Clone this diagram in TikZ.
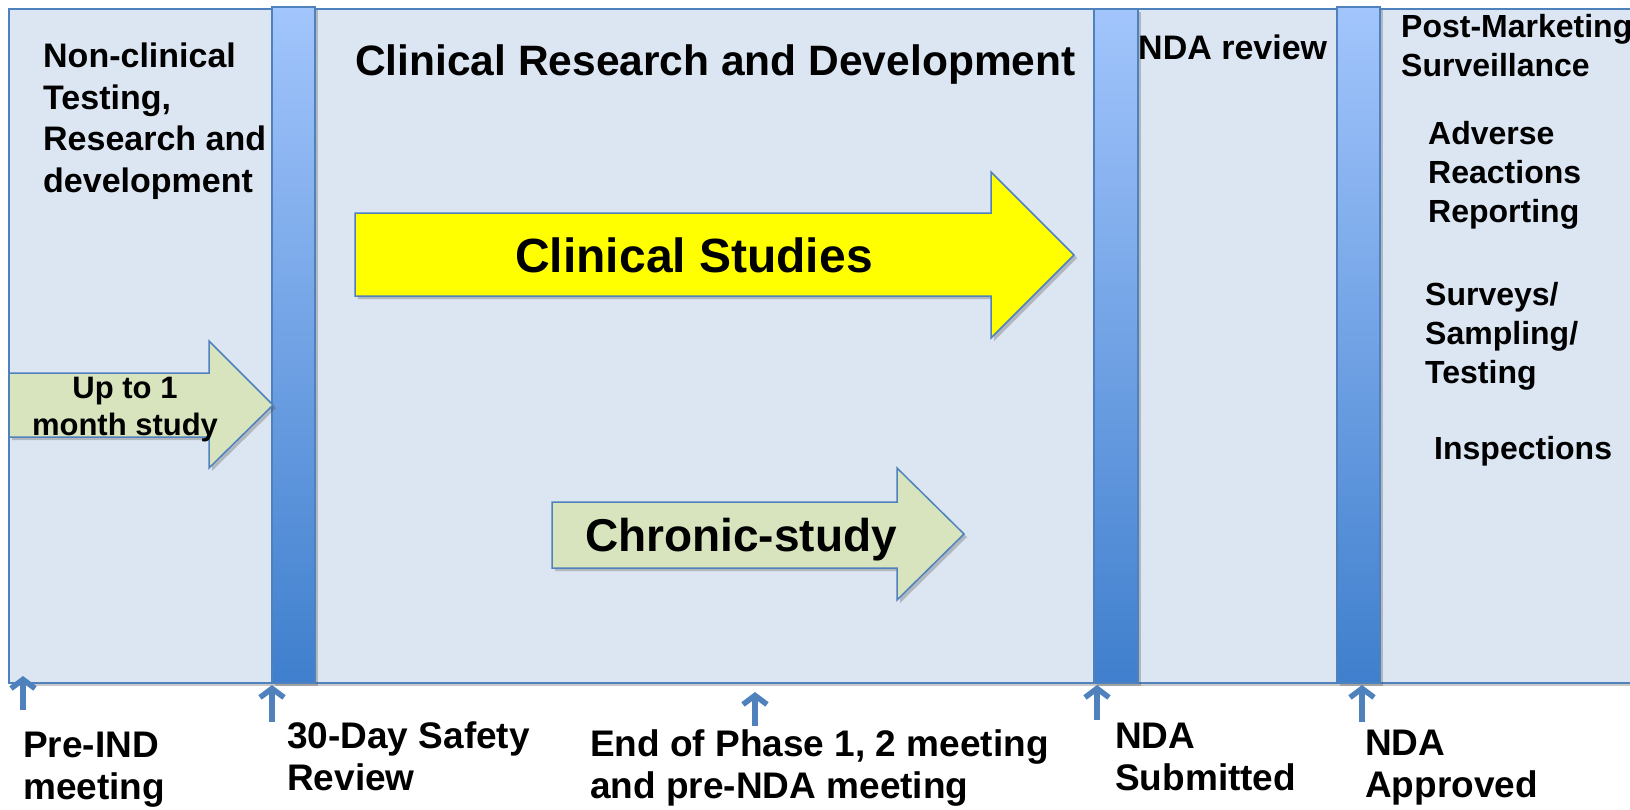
\documentclass[tikz,border=0pt]{standalone}
\usepackage{fontspec}
\setmainfont{Liberation Sans}
\usetikzlibrary{arrows.meta,shadows}
\definecolor{panelfill}{HTML}{DCE6F2}
\definecolor{edgeblue}{HTML}{4F81BD}
\definecolor{bartop}{HTML}{A2C5FC}
\definecolor{barbottom}{HTML}{3F7FCD}
\definecolor{studygreen}{HTML}{D7E4BD}
\definecolor{studyyellow}{HTML}{FFFF00}

\begin{document}
\begin{tikzpicture}[x=1pt, y=-1pt,
		softshadow/.style={drop shadow={shadow xshift=3pt, shadow yshift=-3pt, opacity=0.3, fill=black!70}},
		phasebar/.style={draw=edgeblue, line width=1.5pt, top color=bartop, bottom color=barbottom, softshadow},
		studyarrow/.style={draw=edgeblue, line width=1.5pt, softshadow},
		mtick/.style={draw=edgeblue, line width=5.5pt, -{Straight Barb[length=9pt, width=24pt]}},
		lbl/.style={inner sep=0pt, anchor=base west, align=left, font=\bfseries\fontsize{34}{41.5}\selectfont},
		sidelbl/.style={lbl, font=\bfseries\fontsize{32}{39}\selectfont},
		milestone/.style={lbl, font=\bfseries\fontsize{37}{42}\selectfont}]
			%%%%% START %%%%%
			\useasboundingbox (0, 0) rectangle (1630, 809);
			\clip (0, 0) rectangle (1630, 809);
			
			\draw[draw=edgeblue, line width=2pt, fill=panelfill, softshadow] (9, 9) rectangle (1660, 683);
			
			\draw[phasebar] (272, 7) rectangle (315, 683);
			\draw[phasebar] (1094, 9) rectangle (1138, 683);
			\draw[phasebar] (1337, 7) rectangle (1380, 683);
			
			\draw[studyarrow, fill=studygreen] (9, 373) -- (209, 373) -- (209, 341) -- (273, 405) -- (209, 468) -- (209, 437) -- (9, 437) -- cycle;
			\draw[studyarrow, fill=studyyellow] (355, 213) -- (991, 213) -- (991, 172) -- (1074, 255) -- (991, 338) -- (991, 296) -- (355, 296) -- cycle;
			\draw[studyarrow, fill=studygreen] (552, 502) -- (897, 502) -- (897, 468) -- (964, 534) -- (897, 600) -- (897, 568) -- (552, 568) -- cycle;
			
			% multi-line labels sit on the baseline of their last line
			\node[lbl] (nonclinical) at (43, 192) {Non-clinical\\Testing,\\Research and\\development};
			\node[lbl, font=\bfseries\fontsize{42.5}{50}\selectfont] (clinicaltitle) at (355, 75) {Clinical Research and Development};
			\node[lbl] (ndareview) at (1138, 59) {NDA review};
			\node[sidelbl] (postmarket) at (1401, 76) {Post-Marketing\\Surveillance};
			\node[sidelbl] (adverse) at (1428, 222) {Adverse\\Reactions\\Reporting};
			\node[sidelbl] (surveys) at (1425, 383) {Surveys/\\Sampling/\\Testing};
			\node[sidelbl] (inspections) at (1434, 459) {Inspections};
			
			\node[inner sep=0pt, anchor=base, align=center, font=\bfseries\fontsize{31}{37}\selectfont] (onemonth) at (125, 435) {Up to 1\\month study};
			\node[inner sep=0pt, anchor=base, font=\bfseries\fontsize{48}{56}\selectfont] (clinicalstudies) at (694, 272) {Clinical Studies};
			\node[inner sep=0pt, anchor=base, font=\bfseries\fontsize{46}{54}\selectfont] (chronic) at (741, 551) {Chronic-study};
			
			% milestones under the time line
			\coordinate (preind tail) at (23, 710);
			\coordinate (preind tip) at (23, 676);
			\coordinate (safety tail) at (272, 722);
			\coordinate (safety tip) at (272, 685);
			\coordinate (phase tail) at (755, 726);
			\coordinate (phase tip) at (755, 692);
			\coordinate (submit tail) at (1097, 720);
			\coordinate (submit tip) at (1097, 685);
			\coordinate (approve tail) at (1362, 722);
			\coordinate (approve tip) at (1362, 685);
			
			\draw[mtick] (preind tail) -- (preind tip);
			\draw[mtick] (safety tail) -- (safety tip);
			\draw[mtick] (phase tail) -- (phase tip);
			\draw[mtick] (submit tail) -- (submit tip);
			\draw[mtick] (approve tail) -- (approve tip);
			
			\node[milestone] (preind) at (23, 799) {Pre-IND\\meeting};
			\node[milestone] (safety) at (287, 790) {30-Day Safety\\Review};
			\node[milestone] (phasemeet) at (590, 798) {End of Phase 1, 2 meeting\\and pre-NDA meeting};
			\node[milestone] (submitted) at (1115, 790) {NDA\\Submitted};
			\node[milestone] (approved) at (1365, 797) {NDA\\Approved};
			%%%%% END %%%%%
\end{tikzpicture}
\end{document}
